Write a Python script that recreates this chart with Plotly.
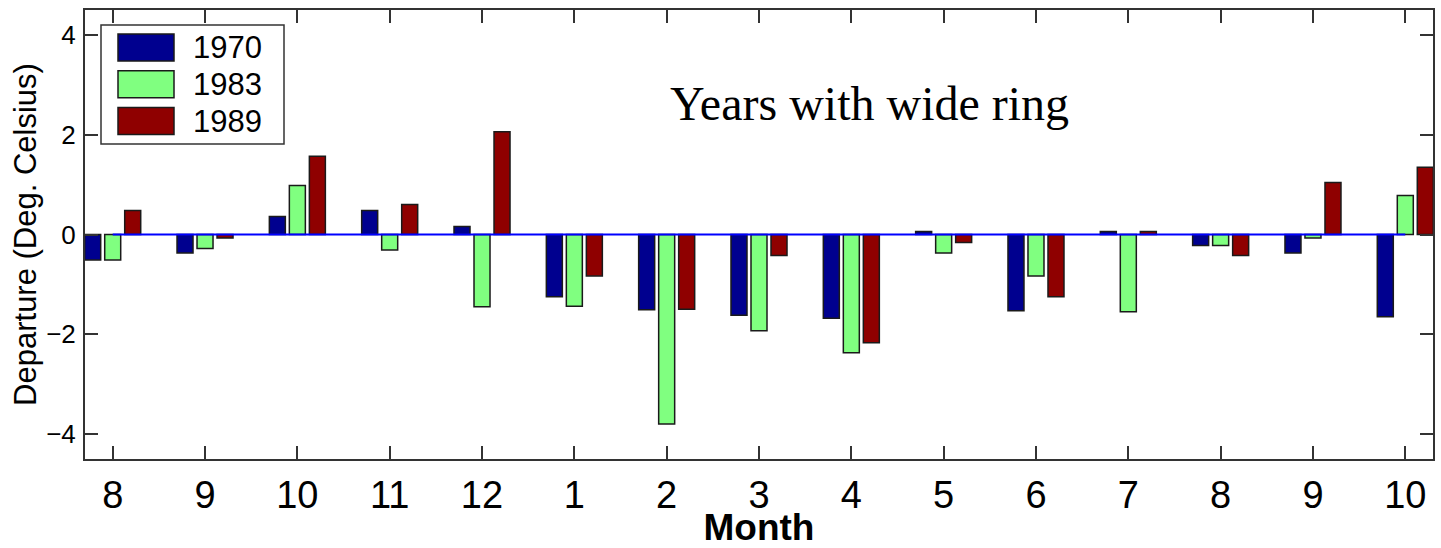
import plotly.graph_objects as go

# ---- data ----
month_labels = ["8", "9", "10", "11", "12", "1", "2", "3", "4", "5", "6", "7", "8", "9", "10"]
positions = list(range(1, 16))
years = ["1970", "1983", "1989"]
dep_1970 = [-0.51, -0.37, 0.36, 0.48, 0.16, -1.25, -1.51, -1.62, -1.68, 0.06, -1.53, 0.06, -0.22, -0.37, -1.65]
dep_1983 = [-0.51, -0.28, 0.98, -0.31, -1.45, -1.44, -3.80, -1.93, -2.37, -0.37, -0.83, -1.55, -0.22, -0.07, 0.78]
dep_1989 = [0.48, -0.07, 1.57, 0.60, 2.06, -0.83, -1.50, -0.42, -2.17, -0.16, -1.25, 0.06, -0.42, 1.04, 1.35]
series = [dep_1970, dep_1983, dep_1989]
colors = ["#00008F", "#80FF80", "#8F0000"]
ytick_vals = [-4, -2, 0, 2, 4]

FONT = "Arial, Liberation Sans, sans-serif"

fig = go.Figure()
for name, vals, col in zip(years, series, colors):
    fig.add_trace(go.Bar(
        x=positions, y=vals, name=name,
        marker=dict(color=col, line=dict(color="#1a1a1a", width=1.5)),
        showlegend=False,
    ))

# zero reference line
fig.add_trace(go.Scatter(
    x=[positions[0], positions[-1]], y=[0, 0], mode="lines",
    line=dict(color="#0000FF", width=2), showlegend=False, hoverinfo="skip",
))

# ---- manual legend (MATLAB-style large swatches) ----
W, H = 1348.0, 449.0
def px(x):
    return (x - 85) / W
def py(y):
    return (459 - y) / H

shapes = [dict(type="rect", xref="paper", yref="paper",
               x0=px(101), x1=px(284), y0=py(144), y1=py(25),
               line=dict(color="#333333", width=1.5), fillcolor="white", layer="above")]
annotations = []
row_centers = [47.5, 84.2, 121.0]
for name, col, cy in zip(years, colors, row_centers):
    shapes.append(dict(type="rect", xref="paper", yref="paper",
                       x0=px(118), x1=px(174), y0=py(cy + 13.5), y1=py(cy - 13.5),
                       line=dict(color="#1a1a1a", width=1.5), fillcolor=col, layer="above"))
    annotations.append(dict(xref="paper", yref="paper", x=px(191), y=py(cy),
                            text=name, showarrow=False, xanchor="left", yanchor="middle",
                            font=dict(family=FONT, size=31, color="black")))

annotations.append(dict(xref="x", yref="y", x=9.2, y=2.62, text="Years with wide ring",
                        showarrow=False, xanchor="center", yanchor="middle",
                        font=dict(family="Times New Roman, Liberation Serif, serif", size=48, color="black")))

fig.update_layout(
    width=1441, height=548,
    margin=dict(l=85, r=8, t=10, b=89),
    paper_bgcolor="white", plot_bgcolor="white",
    barmode="group", bargap=0.35, bargroupgap=0.2,
    shapes=shapes, annotations=annotations,
    showlegend=False,
)
fig.update_xaxes(
    range=[0.7, 15.3], tickmode="array", tickvals=positions, ticktext=month_labels,
    ticks="inside", ticklen=13, tickwidth=1.5, tickcolor="#333333",
    showline=True, linecolor="#333333", linewidth=2, mirror="ticks",
    showgrid=False, zeroline=False, automargin=False,
    tickfont=dict(family=FONT, size=38, color="black"),
    ticklabelstandoff=1,
    title=dict(text="<b>Month</b>", font=dict(family=FONT, size=37, color="black"), standoff=7),
)
fig.update_yaxes(
    range=[-4.5, 4.5], tickmode="array", tickvals=ytick_vals,
    ticks="inside", ticklen=13, tickwidth=1.5, tickcolor="#333333",
    showline=True, linecolor="#333333", linewidth=2, mirror="ticks",
    showgrid=False, zeroline=False, automargin=False,
    tickfont=dict(family=FONT, size=26, color="black"),
    ticklabelstandoff=2,
    title=dict(text="Departure (Deg. Celsius)", font=dict(family=FONT, size=31, color="black"), standoff=0),
)

fig.write_html("out.html")
